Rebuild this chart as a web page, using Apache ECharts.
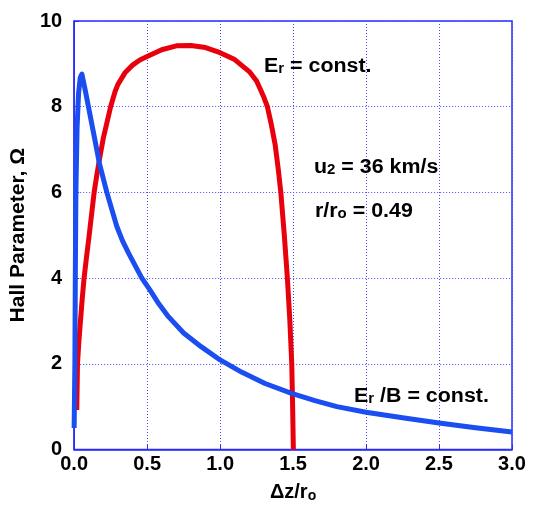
<!DOCTYPE html>
<html>
<head>
<meta charset="utf-8">
<script src="https://cdn.jsdelivr.net/npm/echarts@6/dist/echarts.min.js"></script>
<style>html,body{margin:0;padding:0;background:#fff;}#c{width:535px;height:508px;}</style>
</head>
<body>
<div id="c"></div>
<script>
// Red curve: Er = const.
var redX = [0.018, 0.023, 0.032, 0.041, 0.055, 0.068, 0.085, 0.103, 0.12, 0.137, 0.155, 0.175, 0.20, 0.25, 0.28, 0.30, 0.35, 0.40, 0.45, 0.5, 0.6, 0.7, 0.8, 0.9, 1.0, 1.1, 1.2, 1.25, 1.274, 1.30, 1.324, 1.35, 1.377, 1.40, 1.416, 1.44, 1.461, 1.478, 1.491, 1.497, 1.502];
var redY = [0.92, 2.0, 2.5, 2.9, 3.5, 4.0, 4.5, 5.0, 5.5, 6.0, 6.4, 6.8, 7.27, 8.0, 8.35, 8.52, 8.8, 8.97, 9.09, 9.17, 9.33, 9.42, 9.43, 9.38, 9.26, 9.1, 8.82, 8.6, 8.42, 8.22, 8.0, 7.6, 7.12, 6.5, 6.0, 5.0, 4.0, 3.0, 2.0, 1.0, 0.0];
// Blue curve: Er/B = const.
var blueX = [0.0, 0.005, 0.008, 0.012, 0.02, 0.03, 0.042, 0.053, 0.075, 0.098, 0.135, 0.173, 0.224, 0.26, 0.292, 0.33, 0.372, 0.42, 0.464, 0.52, 0.58, 0.646, 0.75, 0.87, 1.0, 1.15, 1.308, 1.49, 1.65, 1.8, 2.0, 2.25, 2.5, 2.75, 3.0];
var blueY = [0.5, 2.0, 4.0, 6.0, 7.5, 8.3, 8.68, 8.76, 8.4, 8.0, 7.35, 6.68, 6.0, 5.58, 5.21, 4.88, 4.59, 4.28, 4.0, 3.72, 3.4, 3.1, 2.72, 2.40, 2.09, 1.8, 1.54, 1.31, 1.14, 1.0, 0.87, 0.74, 0.62, 0.51, 0.41];

function pairs(xs, ys) { return xs.map(function (x, i) { return [x, ys[i]]; }); }

var FONT = 'Liberation Sans, Arial, sans-serif';
var chart = echarts.init(document.getElementById('c'), null, {renderer: 'canvas'});
var richDef = {
  n: {fontFamily: FONT, fontWeight: 'bold', fontSize: 20, color: '#000', lineHeight: 24, verticalAlign: 'bottom'},
  s: {fontFamily: FONT, fontWeight: 'bold', fontSize: 14, color: '#000', lineHeight: 9, height: 13, verticalAlign: 'bottom'}
};
function richText(text, x, y) {
  return {
    type: 'text', x: x, y: y, z: 100, scaleX: 1.07,
    style: {text: text, fontFamily: FONT, fontWeight: 'bold', fontSize: 20, fill: '#000', rich: richDef}
  };
}
chart.setOption({
  animation: false,
  backgroundColor: '#fff',
  grid: {left: 74, right: 23, top: 21, bottom: 51, show: true, borderColor: '#2a2aff', borderWidth: 1.5, backgroundColor: 'transparent'},
  xAxis: {
    type: 'value', min: 0, max: 3, interval: 0.5,
    name: '{n|Δz/r}{s|o}', nameLocation: 'middle', nameGap: 29,
    nameTextStyle: {rich: richDef},
    axisLine: {show: true, lineStyle: {color: '#2a2aff', width: 1.5}},
    axisTick: {show: true, inside: true, length: 5, lineStyle: {color: '#2a2aff'}},
    axisLabel: {fontFamily: FONT, fontWeight: 'bold', fontSize: 20, color: '#000', margin: 5,
      formatter: function (v) { return v.toFixed(1); }},
    splitLine: {show: true, lineStyle: {color: '#4a4aff', type: [1, 2], width: 1}}
  },
  yAxis: {
    type: 'value', min: 0, max: 10, interval: 2,
    name: 'Hall Parameter, Ω', nameLocation: 'middle', nameGap: 41, nameRotate: 90,
    nameTextStyle: {fontFamily: FONT, fontWeight: 'bold', fontSize: 21, color: '#000'},
    axisLine: {show: true, lineStyle: {color: '#2a2aff', width: 1.5}},
    axisTick: {show: true, inside: true, length: 5, lineStyle: {color: '#2a2aff'}},
    axisLabel: {fontFamily: FONT, fontWeight: 'bold', fontSize: 20, color: '#000', margin: 12},
    splitLine: {show: true, lineStyle: {color: '#4a4aff', type: [1, 2], width: 1}}
  },
  series: [
    {type: 'line', data: pairs(redX, redY), showSymbol: false, symbol: 'none',
      lineStyle: {color: '#e8000c', width: 5, join: 'round'}, z: 3},
    {type: 'line', data: pairs(blueX, blueY), showSymbol: false, symbol: 'none',
      lineStyle: {color: '#1a4ef0', width: 5, join: 'round'}, z: 4}
  ],
  graphic: [
    richText('{n|E}{s|r}{n| = const.}', 264, 52),
    richText('{n|u}{s|2}{n| = 36 km/s}', 314, 153),
    richText('{n|r/r}{s|o}{n| = 0.49}', 315, 197),
    richText('{n|E}{s|r}{n| /B = const.}', 354, 382)
  ]
});
</script>
</body>
</html>
